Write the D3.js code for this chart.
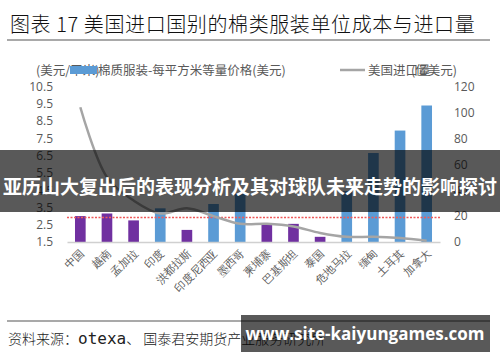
<!DOCTYPE html>
<html>
<head>
<meta charset="utf-8">
<script src="https://cdn.jsdelivr.net/npm/d3@7"></script>
<style>
  body { margin: 0; background: #fff; }
  svg { display: block; font-family: "Noto Sans CJK SC", "Noto Sans", sans-serif; }
</style>
</head>
<body>
<div id="container"></div>
<script>
// 数据
var categories = ["中国","越南","孟加拉","印度","洪都拉斯","印度尼西亚","墨西哥","柬埔寨","巴基斯坦","泰国","危地马拉","缅甸","土耳其","加拿大"];
var unitPrice = [3.0, 3.15, 2.75, 3.45, 2.2, 3.7, 4.3, 2.55, 2.55, 1.8, 4.45, 6.65, 7.95, 9.4];
var importValue = [104, 50, 32, 22, 26, 20, 14, 14, 12, 7, 4, 4, 3, 1];
var priceGroup = ["a","a","a","b","a","b","b","a","a","a","b","b","b","b"];
var avgPrice = 2.92;
var leftTicks = [1.5, 2.5, 3.5, 4.5, 5.5, 6.5, 7.5, 8.5, 9.5, 10.5];
var rightTicks = [0, 20, 40, 60, 80, 100, 120];

var data = categories.map(function(c, i) {
  return { name: c, price: unitPrice[i], imp: importValue[i], group: priceGroup[i] };
});

var W = 500, H = 362;
var svg = d3.select("#container").append("svg")
  .attr("width", W).attr("height", H);

// 标题
svg.append("text")
  .attr("x", 10).attr("y", 32)
  .attr("font-size", 20)
  .attr("font-weight", 300)
  .attr("fill", "#111")
  .attr("letter-spacing", 0.6)
  .text("图表 17 美国进口国别的棉类服装单位成本与进口量");
svg.append("line")
  .attr("x1", 7).attr("x2", 490).attr("y1", 40).attr("y2", 40)
  .attr("stroke", "#8c8c8c").attr("stroke-width", 1.5);

var x = d3.scaleBand().domain(categories).range([67, 440]).paddingInner(0.6).paddingOuter(0.3);
var yL = d3.scaleLinear().domain([1.5, 10.5]).range([242, 86.5]);
var yR = d3.scaleLinear().domain([0, 120]).range([242, 86.5]);
var color = d3.scaleOrdinal().domain(["a", "b"]).range(["#7030a0", "#5b9bd5"]);

// 左轴
var axisL = svg.append("g").attr("transform", "translate(60,0)")
  .call(d3.axisLeft(yL).tickValues(leftTicks).tickFormat(d3.format(".1f")).tickSize(0).tickPadding(7));
axisL.select(".domain").remove();
axisL.selectAll("text").attr("font-size", 12).attr("fill", "#595959")
  .attr("font-family", "'Open Sans', 'Noto Sans', sans-serif");

// 右轴
var axisR = svg.append("g").attr("transform", "translate(447,0)")
  .call(d3.axisRight(yR).tickValues(rightTicks).tickSize(0).tickPadding(7));
axisR.select(".domain").remove();
axisR.selectAll("text").attr("font-size", 12).attr("fill", "#595959")
  .attr("font-family", "'Open Sans', 'Noto Sans', sans-serif");

// 柱子
svg.selectAll(".bar").data(data).enter().append("rect")
  .attr("class", "bar")
  .attr("x", function(d) { return x(d.name); })
  .attr("width", x.bandwidth())
  .attr("y", function(d) { return yL(d.price); })
  .attr("height", function(d) { return yL(1.5) - yL(d.price); })
  .attr("fill", function(d) { return color(d.group); });

// x 轴
var axisX = svg.append("g").attr("transform", "translate(0," + yL(1.5) + ")")
  .call(d3.axisBottom(x).tickSize(0).tickPadding(0));
axisX.select(".domain").attr("stroke", "#d0d0d0").attr("stroke-width", 1.5);
axisX.selectAll("text")
  .attr("font-size", 11).attr("fill", "#595959")
  .attr("text-anchor", "end")
  .attr("dy", "0.35em")
  .attr("transform", "translate(2,9) rotate(-45)");

// 平均线
svg.append("line")
  .attr("x1", 67).attr("x2", 440)
  .attr("y1", yL(avgPrice)).attr("y2", yL(avgPrice))
  .attr("stroke", "#f05a5a").attr("stroke-width", 1.5)
  .attr("stroke-dasharray", "2,1.5");

// 进口量折线
var line = d3.line()
  .x(function(d) { return x(d.name) + x.bandwidth() / 2; })
  .y(function(d) { return yR(d.imp); })
  .curve(d3.curveCatmullRom);
svg.append("path").datum(data)
  .attr("d", line)
  .attr("fill", "none")
  .attr("stroke", "#a5a5a5")
  .attr("stroke-width", 2.5);

// 图例与轴标题
var lg = svg.append("g").attr("font-size", 12.5).attr("fill", "#595959");
lg.append("text").attr("x", 36).attr("y", 74.5).text("(美元/平米)");
lg.append("rect").attr("x", 70).attr("y", 66).attr("width", 27).attr("height", 8).attr("fill", "#5b9bd5");
lg.append("text").attr("x", 98).attr("y", 74.5).text("棉质服装-每平方米等量价格(美元)");
lg.append("line").attr("x1", 340).attr("x2", 365).attr("y1", 70).attr("y2", 70)
  .attr("stroke", "#a5a5a5").attr("stroke-width", 2.5);
lg.append("text").attr("x", 368).attr("y", 74.5).text("美国进口量");
lg.append("text").attr("x", 457).attr("y", 74.5).attr("text-anchor", "end").text("(亿美元)");

// 底部来源
svg.append("line")
  .attr("x1", 7).attr("x2", 490).attr("y1", 321).attr("y2", 321)
  .attr("stroke", "#8c8c8c").attr("stroke-width", 1.5);
var src = svg.append("text").attr("x", 8).attr("y", 344).attr("fill", "#222").attr("font-size", 14).attr("font-weight", 300);
src.append("tspan").text("资料来源：");
src.append("tspan").attr("font-family", "'DejaVu Sans Mono', monospace").attr("font-weight", 400).attr("font-size", 16).text("otexa");
src.append("tspan").text("、 国泰君安期货产业服务研究所");

// 覆盖横幅
svg.append("rect").attr("x", 0).attr("y", 150).attr("width", W).attr("height", 62)
  .attr("fill", "#000").attr("fill-opacity", 0.65);
svg.append("text").attr("x", W / 2).attr("y", 194)
  .attr("text-anchor", "middle").attr("fill", "#fff")
  .attr("font-size", 19).attr("font-weight", "bold")
  .text("亚历山大复出后的表现分析及其对球队未来走势的影响探讨");

svg.append("rect").attr("x", 241).attr("y", 315).attr("width", 249).attr("height", 37)
  .attr("fill", "#000").attr("fill-opacity", 0.65);
svg.append("text").attr("x", 365).attr("y", 340)
  .attr("text-anchor", "middle").attr("fill", "#fff")
  .attr("font-size", 17).attr("font-weight", "bold")
  .attr("font-family", "'Open Sans', 'Noto Sans', sans-serif")
  .text("www.site-kaiyungames.com");
</script>
</body>
</html>
